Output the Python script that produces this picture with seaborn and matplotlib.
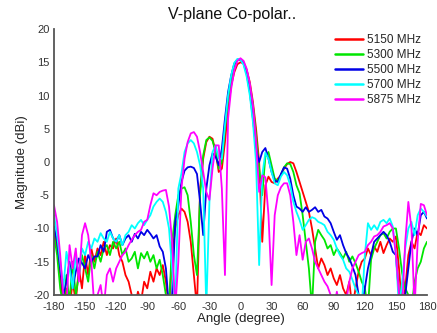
import numpy as np
import pandas as pd
import matplotlib
matplotlib.use("Agg")
import matplotlib.pyplot as plt
import seaborn as sns

# angle grid (degrees), 3-degree steps
angles = list(range(-180, 181, 3))

freqs = ["5150 MHz", "5300 MHz", "5500 MHz", "5700 MHz", "5875 MHz"]
colors = ["#ff0000", "#00e600", "#0000e6", "#00ffff", "#ff00ff"]

mag_5150 = [
    -10, -13, -17, -22, -19, -22, -18, -21, -16, -19,
    -14, -17, -13, -15, -13, -14, -12, -14, -12.5, -13,
    -11.5, -14, -15, -17, -18, -20, -22, -19.5, -21, -18,
    -19, -16.5, -18, -16, -17, -15.5, -18, -22, -14, -10,
    -8, -7, -7.5, -9, -12, -17, -22, -4, 0.5, 3,
    3.8, 3.5, 1.5, -1.5, -1, 3, 8, 11.5, 13.5, 14.7,
    15, 14.8, 13.8, 12, 9, 5, 0, -12, -3.5, -2.2,
    -3, -3.2, -2.5, -2, -1, -0.3, 0, -0.2, -1.5, -3,
    -4.5, -6, -7.5, -10, -13, -16, -14.5, -15.5, -17, -16,
    -17.5, -18.5, -17, -19, -20, -18, -22, -19, -16.5, -15,
    -14.5, -13, -14, -12.7, -13.5, -12, -13.7, -12.5, -11.5, -12,
    -11.2, -16, -22, -19, -14, -12, -13, -10.5, -11, -9.5,
    -10,
]

mag_5300 = [
    -11, -14, -19, -22, -17, -21, -15, -20, -17, -14,
    -16, -18, -14, -16, -13.5, -15, -13, -12.5, -14, -12,
    -13, -12, -14, -13, -15, -14.5, -13.5, -16, -13.7, -14.5,
    -13.5, -15, -14, -16, -14.7, -17, -20, -22, -12, -8,
    -5, -4, -3.8, -5, -9, -14, -17, -5, 1, 3.3,
    3.7, 3.2, 1.5, -1, 0, 5, 9.5, 12.5, 14.5, 15.3,
    15.4, 15, 13.8, 11.5, 8.5, 4, -1, -5, 0.8, 1.5,
    -0.5, -2.5, -2.8, -2, -0.8, -0.2, -0.3, -1.5, -3.5, -4.7,
    -8, -12, -16, -22, -12, -10.2, -11, -11.7, -13, -12.5,
    -14, -13, -13.7, -14.5, -13.5, -15, -14.2, -15.2, -16.5, -18,
    -19, -22, -14.7, -13, -12, -11, -10.7, -11.5, -10.5, -10,
    -10, -13, -16.7, -19, -20, -22, -18, -16, -15, -13,
    -12,
]

mag_5500 = [
    -9.7, -12, -16, -20, -18, -15, -19, -16.5, -14.5, -15.2,
    -16, -14, -15, -14.2, -14.2, -12.5, -13.5, -10.5, -10.2, -11.5,
    -12, -11, -12.5, -11.5, -11, -12, -10.8, -11.5, -10.5, -11,
    -10.2, -10.8, -11.5, -11, -12.7, -13.5, -16, -22, -20, -9,
    -6.5, -3, -1.3, -0.8, -0.7, -0.9, -1.8, -6, -11, -4,
    -0.5, 1.3, 0.8, -0.5, 2, 6.5, 10.5, 13, 14.8, 15.4,
    15.4, 14.8, 13.2, 10.5, 6.5, 2, 0, 1.5, 2.1, 0.5,
    -1.5, -2.8, -3, -1.8, -0.8, -1, -2.5, -5, -6.7, -7,
    -7.5, -6.8, -7.5, -7.2, -6.8, -7.5, -7.2, -8.2, -8.5, -9.2,
    -10.5, -11.7, -11, -12.5, -13.7, -14.5, -15.7, -17, -20, -22,
    -19, -16, -14, -12, -11.5, -11, -10.5, -11, -12, -13.5,
    -14, -20, -22, -20, -16, -12, -10, -11, -8, -7.5,
    -8.5,
]

mag_5700 = [
    -8, -11, -15, -19, -13.5, -16, -19, -14, -17, -13,
    -14, -12, -13, -11.5, -12, -10.7, -11.5, -12, -10.5, -11.5,
    -12, -11, -12.5, -11, -10.5, -9.5, -10, -9.2, -8.7, -9.5,
    -8.7, -8, -6.7, -6, -5.5, -6, -7.5, -10, -16, -22,
    -4, -1.7, 1.5, 2.8, 3.3, 2.8, 1.5, -0.5, -4, -22,
    -6, 1.5, 2.5, 0.5, 0.5, 5.5, 10, 13, 14.9, 15.5,
    15.4, 14.6, 12.8, 10, 6, 0, -15.5, -2, 1.4, 0.5,
    -1.5, -3.2, -3.5, -2.2, -1.5, -2, -3.5, -6, -7.5, -8.7,
    -10.2, -9.5, -8.7, -8.3, -8.5, -9, -9.2, -9.5, -10.5, -11,
    -11.7, -13, -14, -14.7, -16, -16.5, -17.7, -19, -20, -22,
    -14, -9.2, -10.2, -9.5, -10.2, -9, -8.7, -9.2, -8.5, -9.7,
    -14, -22, -18, -13, -10, -9, -11, -8, -7, -7.5,
    -8.2,
]

mag_5875 = [
    -6.5, -9, -14, -20, -22, -12.5, -16, -13, -18, -11,
    -9.2, -11, -15, -22, -20, -18.5, -22, -17, -16, -18,
    -16, -15, -14, -13.5, -12.5, -11.7, -11, -10.5, -10.2, -9,
    -8.7, -6.5, -4.7, -5, -4.5, -4.3, -4.2, -6.7, -12, -22,
    -15, -4, 0.5, 3, 4.3, 4.5, 3.8, 1.5, -1.5, -4.5,
    -5.7, -1, 2.5, 2.5, -4, -17, 6.5, 11, 13.8, 15.2,
    15.6, 15.2, 14, 11.8, 8.5, 3, -4.5, -2, -2.3, -8,
    -18.5, -8, -5, -3.8, -3.2, -3.2, -5, -9, -14, -11,
    -14.7, -12, -11.5, -13, -15, -16, -17, -18, -18.7, -20,
    -22, -19.5, -22, -20, -21, -18, -16, -15, -14, -13.7,
    -13.5, -12.5, -12, -11.2, -11, -10.5, -9.7, -9.5, -9.2, -10,
    -14, -20, -22, -12, -6, -10, -22, -12, -6.3, -6.5,
    -8,
]

series = [mag_5150, mag_5300, mag_5500, mag_5700, mag_5875]

x_ticks = list(range(-180, 181, 30))
y_ticks = list(range(-20, 21, 5))

frames = []
for f, vals in zip(freqs, series):
    frames.append(pd.DataFrame({"angle": angles, "mag": vals, "freq": f}))
df = pd.concat(frames, ignore_index=True)

sns.set_style("white")
plt.rcParams["font.family"] = ["Liberation Sans", "DejaVu Sans"]
plt.rcParams["axes.unicode_minus"] = False

fig = plt.figure(figsize=(4.37, 3.33), dpi=100)
ax = fig.add_axes([54 / 437, 1 - 295 / 333, (427 - 54) / 437, (295 - 29) / 333])

sns.lineplot(data=df, x="angle", y="mag", hue="freq", palette=colors,
             hue_order=freqs, linewidth=1.3, ax=ax, sort=False)

ax.set_xlim(-180, 180)
ax.set_ylim(-20, 20)
ax.set_xticks(x_ticks)
ax.set_yticks(y_ticks)
ax.tick_params(direction="in", length=4, width=1, labelsize=8, colors="#333333")
ax.tick_params(axis="x", pad=5)
ax.tick_params(axis="y", pad=3)
for s in ["top", "right"]:
    ax.spines[s].set_visible(False)
for s in ["left", "bottom"]:
    ax.spines[s].set_color("#555555")
    ax.spines[s].set_linewidth(1.3)

ax.set_xlabel("Angle (degree)", fontsize=9.5, color="#222222", labelpad=1)
ax.set_ylabel("Magnitude (dBi)", fontsize=9.5, color="#222222", labelpad=4)
fig.text(232 / 437, 1 - 15 / 333, "V-plane Co-polar..", ha="center", va="center",
         fontsize=11.5, color="#111111")

leg = ax.legend(loc="upper right", bbox_to_anchor=(421 / 437, 1 - 34 / 333),
                bbox_transform=fig.transFigure, frameon=False, fontsize=8.5,
                handlelength=2.4, handletextpad=0.3, labelspacing=0.25,
                borderaxespad=0, borderpad=0)
for line in leg.get_lines():
    line.set_linewidth(1.8)

fig.savefig("out.png", dpi=100)
